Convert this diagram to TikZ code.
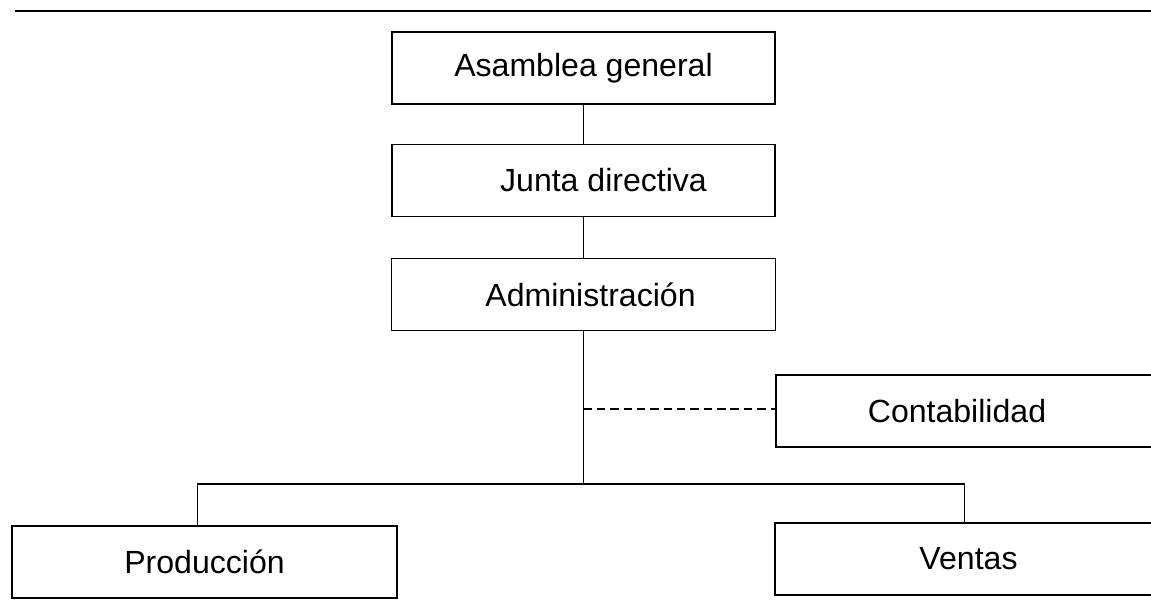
\documentclass[tikz,border=0pt]{standalone}
\usepackage{fontspec}
\setmainfont{Liberation Sans}
\usepackage{tikz}
\usetikzlibrary{calc,positioning}
\tikzset{orgbox/.style={draw, line width=1.2pt, minimum height=1.8cm, inner sep=0pt,
  font=\fontsize{22.8pt}{27pt}\selectfont}}
\tikzset{
  edgeorg/.style={black, line width=0.9pt},
  edgedash/.style={black, line width=1pt, dash pattern=on 6pt off 3.5pt},
  toprule/.style={black, line width=1.4pt}
}

\begin{document}
\begin{tikzpicture}[x=0.025cm, y=-0.025cm]
\clip (0,0) rectangle (1151,612);
\draw[toprule] (15,11) -- (1151,11);
\node[orgbox, minimum width=9.575cm] (ag) at (583.5,68) {Asamblea general};
\node[orgbox, minimum width=9.575cm] (jd) at (583.5,180.5) {\hspace{1cm}Junta directiva};
\node[orgbox, minimum width=9.6cm] (adm) at (583.5,294.5) {\hspace{0.35cm}Administración};
\node[orgbox, minimum width=9.65cm] (cont) at (969,411) {Contabilidad\hspace*{0.6cm}};
\node[orgbox, minimum width=9.625cm] (prod) at (204.5,562) {Producción};
\node[orgbox, minimum width=9.675cm] (vent) at (968.5,559) {Ventas};
\coordinate (br) at (583.5,484);
\coordinate (dj) at (583.5,409);
\draw[edgeorg] (ag) -- (jd);
\draw[edgeorg] (jd) -- (adm);
\draw[edgeorg] (adm) -- (br);
\draw[edgeorg] ($(prod.north)+(-7,0)$) |- (br) -| ($(vent.north)+(-4,0)$);
\draw[edgedash] (dj) -- (dj -| cont.west);
\end{tikzpicture}
\end{document}
